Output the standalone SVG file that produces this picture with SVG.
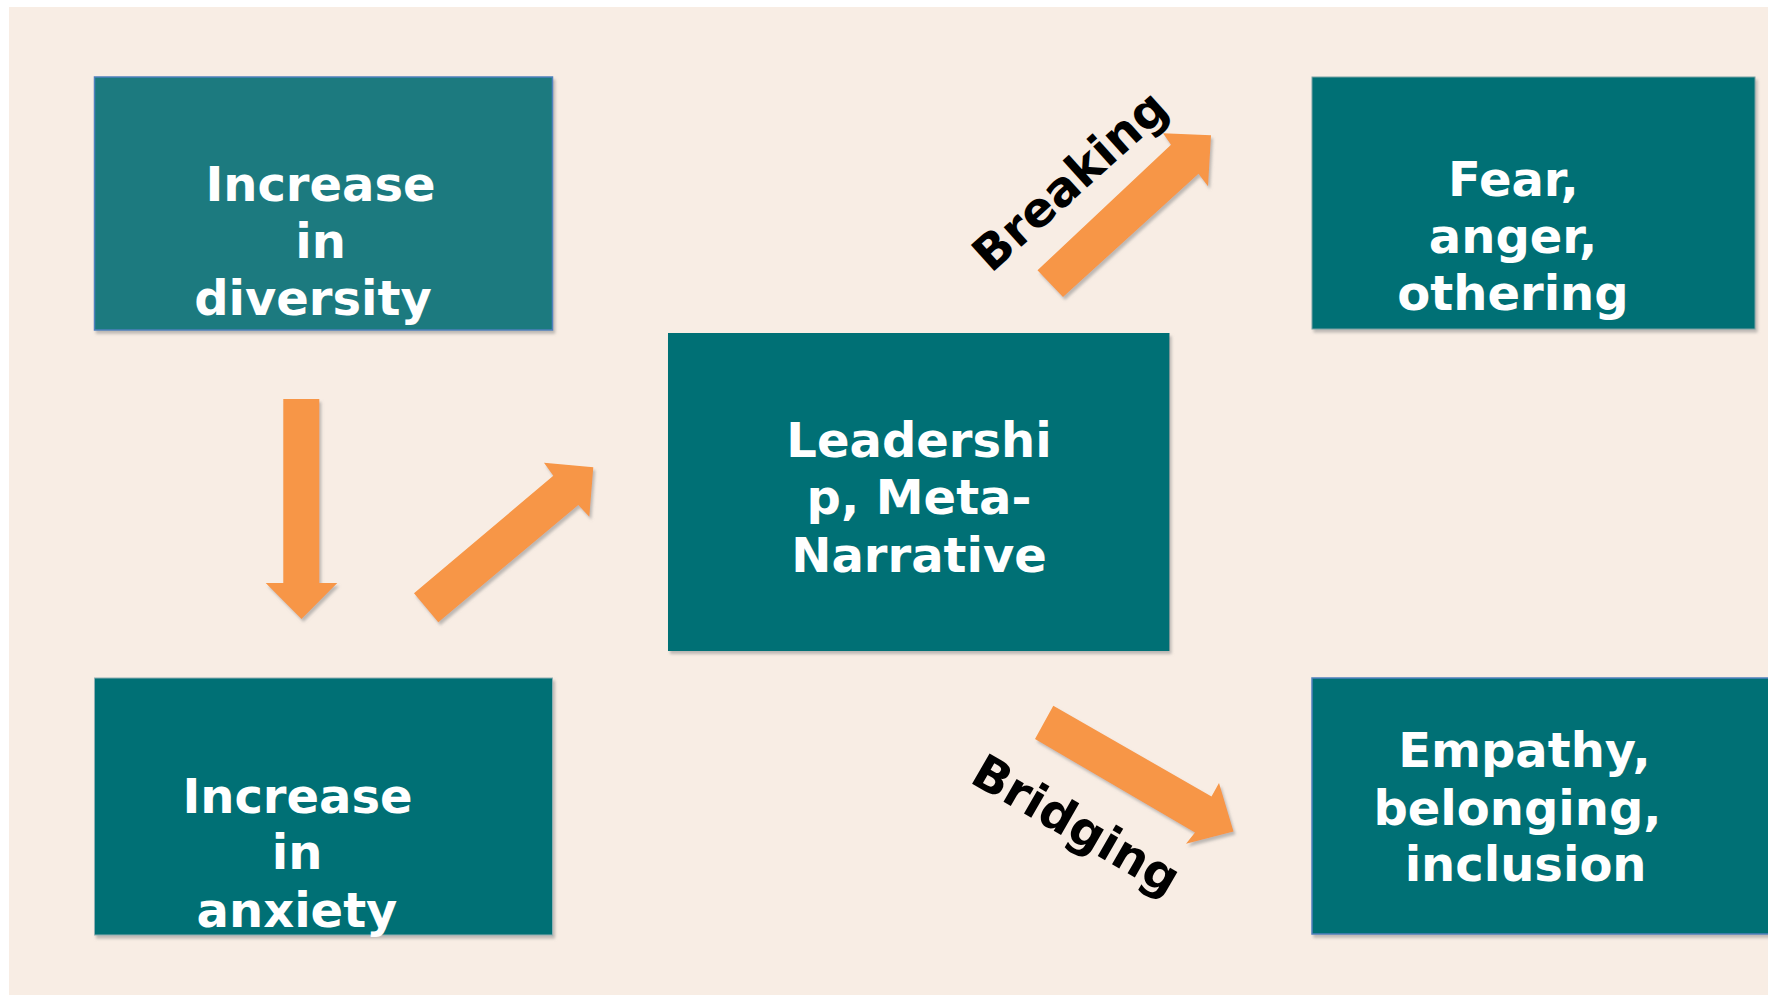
<svg xmlns="http://www.w3.org/2000/svg" width="1768" height="996" viewBox="0 0 1768 996">
  <defs>
    <filter id="sh" x="-10%" y="-10%" width="130%" height="130%">
      <feDropShadow dx="2" dy="3" stdDeviation="1.5" flood-color="#8a8a8a" flood-opacity="0.55"/>
    </filter>
    <style>
      .box { fill: #006f75; }
      .lbl { font-family: "DejaVu Sans", "Verdana", sans-serif; font-weight: bold; font-size: 48px; fill: #ffffff; text-anchor: middle; }
      .arr { fill: #f79646; }
      .tag { font-family: "DejaVu Sans", "Verdana", sans-serif; font-weight: bold; font-size: 48px; fill: #000000; text-anchor: middle; }
    </style>
  </defs>
  <rect x="0" y="0" width="1768" height="996" fill="#ffffff"/>
  <rect x="9" y="7" width="1759" height="988" fill="#f8ede4"/>

  <g id="connectors">
    <g filter="url(#sh)">
      <polygon class="arr" points="283.3,399 319.3,399 319.3,583 337.3,583 301.5,619 265.7,583 283.3,583"/>
      <polygon class="arr" points="414,593.3 553.3,475.7 544,462.7 593.3,467.3 589.3,516.7 578.3,505 438.3,622.3"/>
      <polygon class="arr" points="1037.5,270.3 1171,144.7 1163,133.2 1211,135.3 1208,186.3 1198.5,173.8 1063,297"/>
      <polygon class="arr" points="1053.3,705.7 1211.5,796.5 1219,783 1233.5,831.5 1186,843.7 1195,832.5 1035,739"/>
    </g>
    <text class="tag" transform="translate(1081,193) rotate(-42)">Breaking</text>
    <text class="tag" transform="translate(1068,839) rotate(30)">Bridging</text>
  </g>

  <g id="node-diversity">
    <rect x="94.5" y="77" width="458" height="253" fill="#1b7a7f" stroke="#4f81bd" stroke-width="1.5" filter="url(#sh)"/>
    <text class="lbl" x="320.5" y="201">Increase</text>
    <text class="lbl" x="320.5" y="257.7">in</text>
    <text class="lbl" x="313" y="315">diversity</text>
  </g>

  <g id="node-leadership">
    <rect class="box" x="668" y="333" width="501.5" height="318" filter="url(#sh)"/>
    <text class="lbl" x="919" y="456.7">Leadershi</text>
    <text class="lbl" x="919" y="514.3">p, Meta-</text>
    <text class="lbl" x="919" y="571.7">Narrative</text>
  </g>

  <g id="node-fear">
    <rect class="box" x="1312" y="77" width="443" height="252" stroke="#7aa3a6" stroke-width="1" filter="url(#sh)"/>
    <text class="lbl" x="1513.4" y="196">Fear,</text>
    <text class="lbl" x="1513" y="252.7">anger,</text>
    <text class="lbl" x="1513" y="310">othering</text>
  </g>

  <g id="node-anxiety">
    <rect class="box" x="94.5" y="678" width="458" height="257" stroke="#8fb0b3" stroke-width="1" filter="url(#sh)"/>
    <text class="lbl" x="297.5" y="813.3">Increase</text>
    <text class="lbl" x="297" y="869.3">in</text>
    <text class="lbl" x="297" y="926.7">anxiety</text>
  </g>

  <g id="node-empathy">
    <rect class="box" x="1312" y="678" width="470" height="256" stroke="#4f81bd" stroke-width="1.5" filter="url(#sh)"/>
    <text class="lbl" x="1524.4" y="767.3">Empathy,</text>
    <text class="lbl" x="1517.5" y="825">belonging,</text>
    <text class="lbl" x="1525.6" y="881">inclusion</text>
  </g>
</svg>
